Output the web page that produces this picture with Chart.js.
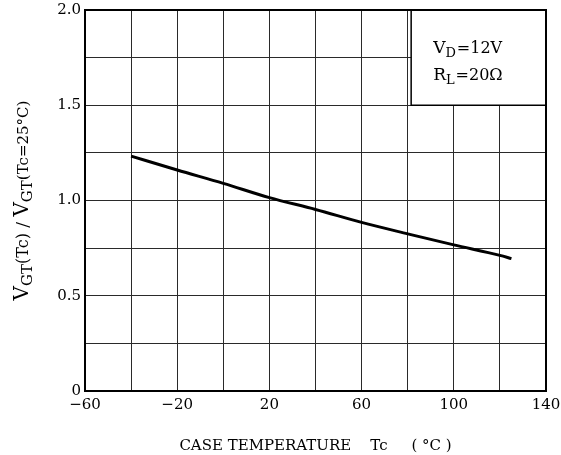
<!DOCTYPE html>
<html>
<head>
<meta charset="utf-8">
<script src="https://cdn.jsdelivr.net/npm/chart.js@4/dist/chart.umd.min.js"></script>
<style>
  html, body { margin: 0; padding: 0; background: #fff; }
  #wrap { width: 561px; height: 455px; }
</style>
</head>
<body>
<div id="wrap"><canvas id="c" width="561" height="455"></canvas></div>
<script>
// ******************************************************** DATA
var temps  = [-40, -20, 0, 20, 40, 60, 80, 100, 120, 125];
var ratio  = [1.233, 1.16, 1.09, 1.015, 0.953, 0.885, 0.825, 0.767, 0.712, 0.695];
var xTickLabels = [-60, -20, 20, 60, 100, 140];
var yTickLabels = [0, 0.5, 1.0, 1.5, 2.0];
var noteLines = [["V", "D", "=12V"], ["R", "L", "=20\u03A9"]];
// [text, style] style: 0 = subscript, 1 = main letter, 2 = bracket part, 3 = slash, 4 = small bracket
var yTitle = [["V", 1], ["GT", 0], ["(Tc)", 2], [" / ", 3], ["V", 1], ["GT", 0], ["(Tc=25\u00B0C)", 4]];

var serif = "'DejaVu Serif', 'Liberation Serif', serif";

// ******************************************************** PLUGIN
var decor = {
    id: 'decor',
    afterDraw: function (chart) {
        var ctx = chart.ctx, a = chart.chartArea;
        var xs = chart.scales.x, ys = chart.scales.y;
        ctx.save();
        // note box
        var bx = xs.getPixelForValue(81.5), by = ys.getPixelForValue(1.5);
        ctx.fillStyle = '#fff';
        ctx.fillRect(bx, a.top, a.right - bx, by - a.top);
        ctx.strokeStyle = '#000';
        ctx.lineWidth = 1.5;
        ctx.strokeRect(bx, a.top, a.right - bx, by - a.top);
        // frame
        ctx.lineWidth = 2;
        ctx.strokeRect(a.left, a.top, a.right - a.left, a.bottom - a.top);
        // note text
        ctx.fillStyle = '#000';
        ctx.textBaseline = 'alphabetic';
        noteLines.forEach(function (ln, i) {
            var x = bx + 22, y = a.top + 43 + i * 27;
            ctx.font = '17px ' + serif;
            ctx.fillText(ln[0], x, y); x += ctx.measureText(ln[0]).width;
            ctx.font = '13px ' + serif;
            ctx.fillText(ln[1], x, y + 4); x += ctx.measureText(ln[1]).width + 1;
            ctx.font = '16px ' + serif;
            ctx.fillText(ln[2], x, y);
        });
        // y title
        var sizes = [15, 20, 16, 17, 15];
        var drops = [4, 0, 0, 0, 0];
        var total = 0;
        yTitle.forEach(function (p) {
            ctx.font = sizes[p[1]] + 'px ' + serif;
            total += ctx.measureText(p[0]).width;
        });
        ctx.translate(28, (a.top + a.bottom) / 2);
        ctx.rotate(-Math.PI / 2);
        var px = -total / 2;
        yTitle.forEach(function (p) {
            ctx.font = sizes[p[1]] + 'px ' + serif;
            ctx.fillText(p[0], px, drops[p[1]]);
            px += ctx.measureText(p[0]).width;
        });
        ctx.restore();
    }
};

// ******************************************************** CHART
var config = {
    type: 'scatter',
    data: {
        datasets: [{
            data: temps.map(function (t, i) { return { x: t, y: ratio[i] }; }),
            showLine: true,
            borderColor: '#000',
            borderWidth: 3,
            pointRadius: 0,
            cubicInterpolationMode: 'monotone',
            fill: false
        }]
    },
    options: {
        responsive: false,
        animation: false,
        layout: { padding: { top: 10, right: 15, left: 0, bottom: 0 } },
        plugins: { legend: { display: false }, tooltip: { enabled: false } },
        scales: {
            x: {
                type: 'linear', min: -60, max: 140,
                afterFit: function (s) { s.height = 64; s.paddingLeft = 0; s.paddingRight = 0; },
                grid: { color: '#2a2a2a', lineWidth: 1, drawTicks: false },
                border: { color: '#000', width: 2 },
                ticks: {
                    stepSize: 20, padding: 5, color: '#000', maxRotation: 0, autoSkip: false,
                    font: { family: serif, size: 15 },
                    callback: function (v) {
                        return xTickLabels.indexOf(v) >= 0 ? (v < 0 ? '\u2212' + (-v) : String(v)) : '';
                    }
                },
                title: {
                    display: true, text: 'CASE TEMPERATURE    Tc     ( \u00B0C )', color: '#000',
                    font: { family: serif, size: 15 }, padding: { top: 15, bottom: 0 }
                }
            },
            y: {
                min: 0, max: 2.0,
                afterFit: function (s) { s.width = 85; s.paddingTop = 0; s.paddingBottom = 0; },
                grid: { color: '#2a2a2a', lineWidth: 1, drawTicks: false },
                border: { color: '#000', width: 2 },
                ticks: {
                    stepSize: 0.25, padding: 4, color: '#000', autoSkip: false,
                    font: { family: serif, size: 15 },
                    callback: function (v) {
                        if (yTickLabels.indexOf(v) < 0) return '';
                        return v === 0 ? '0' : v.toFixed(1);
                    }
                }
            }
        }
    },
    plugins: [decor]
};

var _ctxc = document.getElementById("c").getContext("2d");
window.myChart = new Chart(_ctxc, config);
</script>
</body>
</html>
